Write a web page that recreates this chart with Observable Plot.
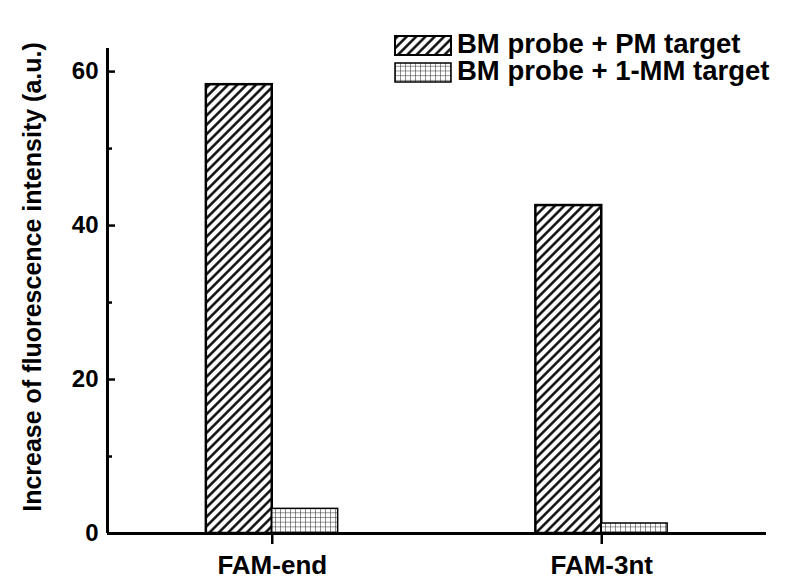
<!DOCTYPE html>
<html><head><meta charset="utf-8">
<script src="https://cdn.jsdelivr.net/npm/d3@7"></script>
<script src="https://cdn.jsdelivr.net/npm/@observablehq/plot@0.6"></script>
<style>
body{margin:0;background:#fff;}
#chart{position:relative;width:786px;height:579px;font-family:"Liberation Sans",Arial,sans-serif;}
#legend{position:absolute;left:0;top:0;pointer-events:none;}
</style></head><body><div id="chart"></div>
<script>
const categories = ["FAM-end", "FAM-3nt"];
const seriesNames = ["BM probe + PM target", "BM probe + 1-MM target"];
const pmValues = [58.3, 42.6];
const mmValues = [3.2, 1.3];
const yMajorTicks = [0, 20, 40, 60];
const yMinorTicks = [10, 30, 50];
const yTitle = "Increase of fluorescence intensity (a.u.)";

const xDomain = [-0.5, categories.length - 0.5];
const barW = 0.2;
const pmRows = categories.map((c, i) => ({cat: c, x1: i - barW, x2: i, value: pmValues[i]}));
const mmRows = categories.map((c, i) => ({cat: c, x1: i, x2: i + barW, value: mmValues[i]}));

const font = "Liberation Sans, Arial, sans-serif";
const plot = Plot.plot({
  width: 786, height: 579,
  marginLeft: 107, marginRight: 20, marginTop: 48, marginBottom: 46,
  style: {fontFamily: font, fontWeight: "bold", color: "black", background: "white", overflow: "visible"},
  x: {domain: xDomain},
  y: {domain: [0, 63]},
  marks: [
    Plot.rectY(pmRows, {x1: "x1", x2: "x2", y1: 0, y2: "value", fill: "url(#hatch)", stroke: "black", strokeWidth: 2.5}),
    Plot.rectY(mmRows, {x1: "x1", x2: "x2", y1: 0, y2: "value", fill: "url(#cross)", stroke: "black", strokeWidth: 1.5}),
    Plot.ruleX([xDomain[0]], {strokeWidth: 3}),
    Plot.ruleY([0], {strokeWidth: 3}),
    Plot.axisY(yMajorTicks, {tickSize: -8, tickFormat: () => "", label: null, strokeWidth: 2.5}),
    Plot.axisY(yMinorTicks, {tickSize: -5, tickFormat: () => "", label: null, strokeWidth: 2.5}),
    Plot.axisY(yMajorTicks, {tickSize: 0, tickPadding: 9, fontSize: 24, label: null}),
    Plot.axisX(categories.map((_, i) => i), {tickSize: 11, tickPadding: 11, tickFormat: i => categories[i], fontSize: 26, label: null, strokeWidth: 2.5}),
    Plot.text([yTitle], {frameAnchor: "left", rotate: -90, dx: -67, dy: -14, textAnchor: "middle", lineAnchor: "bottom", fontSize: 25, fontWeight: "bold"})
  ]
});

const svg = d3.select(plot);
const defs = svg.insert("defs", ":first-child");
const hatch = defs.append("pattern").attr("id", "hatch").attr("patternUnits", "userSpaceOnUse")
  .attr("width", 6.6).attr("height", 6.6).attr("patternTransform", "rotate(45)");
hatch.append("rect").attr("width", 6.6).attr("height", 6.6).attr("fill", "white");
hatch.append("line").attr("x1", 3.3).attr("x2", 3.3).attr("y1", -1).attr("y2", 8).attr("stroke", "black").attr("stroke-width", 2.4);
const cross = defs.append("pattern").attr("id", "cross").attr("patternUnits", "userSpaceOnUse")
  .attr("width", 5).attr("height", 4.7);
cross.append("rect").attr("width", 5).attr("height", 4.7).attr("fill", "white");
cross.append("path").attr("d", "M0,0H5M0,0V4.7").attr("stroke", "#222").attr("stroke-width", 1).attr("fill", "none");

const chart = document.getElementById("chart");
chart.appendChild(plot);

// legend overlay
const fills = ["url(#hatch)", "url(#cross)"];
const lg = d3.select(chart).append("svg").attr("id", "legend").attr("width", 786).attr("height", 100);
seriesNames.forEach((name, i) => {
  const top = 36 + i * 27;
  lg.append("rect").attr("x", 395).attr("y", top).attr("width", 56).attr("height", 19)
    .attr("fill", fills[i]).attr("stroke", "black").attr("stroke-width", i === 0 ? 2 : 1.5);
  lg.append("text").attr("x", 457).attr("y", top + 17).text(name)
    .attr("font-family", font).attr("font-weight", "bold").attr("font-size", 27.5).attr("fill", "black");
});
</script></body></html>
